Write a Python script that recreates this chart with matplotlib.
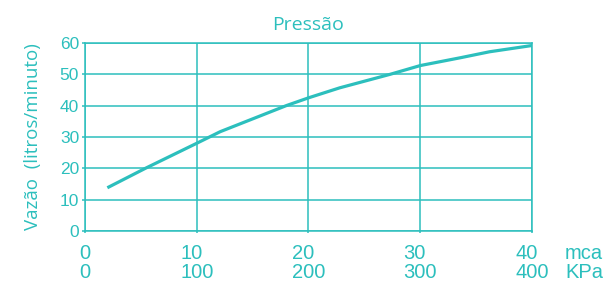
import matplotlib.pyplot as plt

# dados
pressao_mca = [2, 5.4, 10, 12.1, 18, 20, 22.8, 27.3, 30, 33.6, 36.2, 40]
vazao = [13.8, 20, 28, 31.7, 40, 42.5, 45.7, 50, 52.8, 55.3, 57.2, 59.2]
x_ticks = [0, 10, 20, 30, 40]
x_labels_mca = ["0", "10", "20", "30", "40"]
x_labels_kpa = ["0", "100", "200", "300", "400"]
y_ticks = [0, 10, 20, 30, 40, 50, 60]

cor = "#2cbfbd"

plt.rcParams["font.family"] = ["Liberation Sans", "DejaVu Sans"]

fig = plt.figure(figsize=(6.07, 2.85), dpi=100)
ax = fig.add_axes([85 / 607, 54 / 285, 447 / 607, 188 / 285])

ax.plot(pressao_mca, vazao, color=cor, linewidth=2.3, solid_capstyle="butt")

ax.set_xlim(0, 40)
ax.set_ylim(0, 60)
ax.set_xticks(x_ticks)
ax.set_xticklabels([a + "\n" + b for a, b in zip(x_labels_mca, x_labels_kpa)],
                   multialignment="left", linespacing=1.0)
ax.set_yticks(y_ticks)
ax.grid(True, color=cor, linewidth=1.1)
ax.set_axisbelow(True)

for s in ax.spines.values():
    s.set_color(cor)
    s.set_linewidth(1.1)

ax.tick_params(axis="x", colors=cor, labelsize=14.5, length=1.5, width=1.1, pad=8)
ax.tick_params(axis="y", colors=cor, labelsize=12.5, length=2.2, width=1.1, pad=2)

ax.set_ylabel("Vazão  (litros/minuto)", color=cor, fontsize=13.5,
              family=["Open Sans", "DejaVu Sans"], labelpad=13)
ax.set_title("Pressão", color=cor, fontsize=14, family=["Open Sans", "DejaVu Sans"], pad=9)

ax.annotate("mca\nKPa", xy=(40, 0), xycoords="data", xytext=(23.8, -9.5),
            textcoords="offset points", ha="left", va="top", color=cor,
            fontsize=14.5, linespacing=1.0, annotation_clip=False)

fig.savefig("out.png", dpi=100)
